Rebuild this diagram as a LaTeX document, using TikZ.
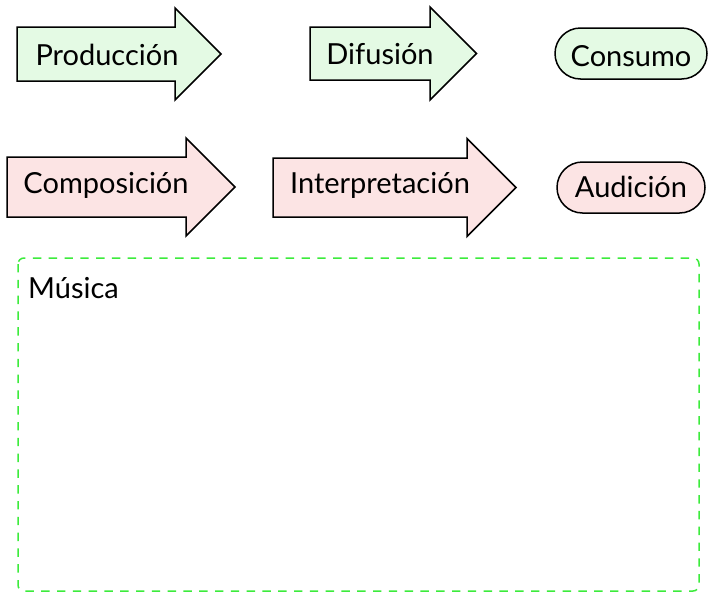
\documentclass[tikz,border=0pt]{standalone}
\usepackage{fontspec}
\setmainfont{Lato}
\usetikzlibrary{shapes.misc}
\definecolor{greenfill}{RGB}{228,250,228}
\definecolor{pinkfill}{RGB}{252,228,228}
\definecolor{dashgreen}{RGB}{60,235,60}
\begin{document}
\begin{tikzpicture}[x=1pt,y=-1pt,
  lbl/.style={font=\fontsize{29}{34}\selectfont, inner sep=0pt, anchor=base},
  arrowbox/.style={draw=black, line width=1.5pt, line join=miter},
  greenarrow/.style={arrowbox, fill=greenfill},
  pinkarrow/.style={arrowbox, fill=pinkfill},
  pill/.style={rounded rectangle, draw=black, line width=1.5pt, inner sep=0pt,
    font=\fontsize{29}{34}\selectfont, text depth=0pt},
  groupbox/.style={draw=dashgreen, line width=1.5pt, dash pattern=on 8.4pt off 7.4pt, rounded corners=6pt}
]
\useasboundingbox (0,0) rectangle (709,592);

% top row
\draw[greenarrow] (17,27) -- (175,27) -- (175,8) -- (221,54) -- (175,100) -- (175,81) -- (17,81) -- cycle;
\node[lbl] (produccion) at (107,65) {Producción};

\draw[greenarrow] (310,27) -- (430,27) -- (430,7) -- (476.5,53.5) -- (430,100) -- (430,80) -- (310,80) -- cycle;
\node[lbl] (difusion) at (380,64) {Difusión};

\node[pill, fill=greenfill, minimum width=152pt, minimum height=51pt, text height=25pt] (consumo) at (631,53.5) {Consumo};

% second row
\draw[pinkarrow] (7,157) -- (186,157) -- (186,138) -- (235,187) -- (186,236) -- (186,217) -- (7,217) -- cycle;
\node[lbl] (composicion) at (106,193) {Composición};

\draw[pinkarrow] (273,158) -- (467,158) -- (467,138.5) -- (516,187.5) -- (467,236.5) -- (467,217) -- (273,217) -- cycle;
\node[lbl] (interpretacion) at (380,193) {Interpretación};

\node[pill, fill=pinkfill, minimum width=148pt, minimum height=51pt, text height=19pt] (audicion) at (631,187.5) {Audición};

% group box
\draw[groupbox] (18,258) rectangle (699,591);
\node[lbl, anchor=base west] (musica) at (28,298) {Música};
\end{tikzpicture}
\end{document}
